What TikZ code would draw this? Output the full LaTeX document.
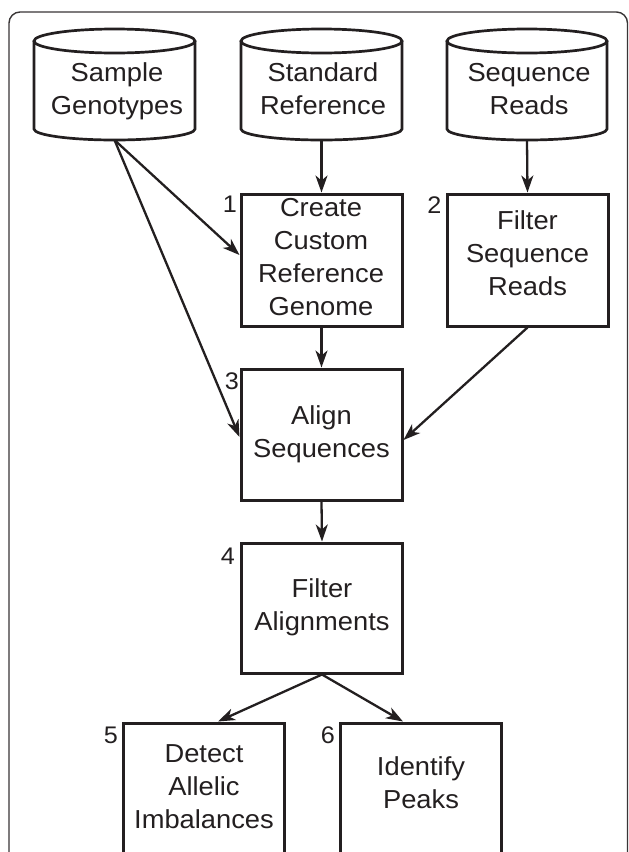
\documentclass[tikz,border=0pt]{standalone}
\usepackage{fontspec}
\setmainfont{Liberation Sans}[FakeStretch=1.05]
\usetikzlibrary{arrows.meta,calc}
\definecolor{ink}{RGB}{35,31,32}
\begin{document}
\begin{tikzpicture}[x=1pt,y=1pt,
  box/.style={draw=ink,line width=3pt,minimum width=161pt,inner sep=0pt},
  txt/.style={align=center,inner sep=0pt,text=ink,font=\fontsize{26}{33}\selectfont},
  num/.style={anchor=north east,inner sep=0pt,text=ink,font=\fontsize{24}{28}\selectfont},
  cyl/.style={draw=ink,line width=2.7pt},
  frame/.style={draw=ink!90,line width=1.4pt,rounded corners=11pt},
  arr/.style={draw=ink,line width=2.3pt,-{Stealth[length=17pt,width=12pt,inset=5pt]}}]
\useasboundingbox (0,0) rectangle (629,-852);
\clip (0,0) rectangle (629,-852);
\fill[white] (0,0) rectangle (629,-852);
% outer frame
\draw[frame] (9,-900) -- (9,-12) -- (627.5,-12) -- (627.5,-900);
% cylinders
\draw[cyl] (114.5,-41) ellipse [x radius=80.5, y radius=12];
\draw[cyl] (34,-41) -- (34,-129) arc[start angle=180,end angle=360,x radius=80.5,y radius=11] -- (195,-41);
\draw[cyl] (321.5,-41) ellipse [x radius=80.5, y radius=12];
\draw[cyl] (241,-41) -- (241,-129) arc[start angle=180,end angle=360,x radius=80.5,y radius=11] -- (402,-41);
\draw[cyl] (527,-41) ellipse [x radius=80, y radius=12];
\draw[cyl] (447,-41) -- (447,-129) arc[start angle=180,end angle=360,x radius=80,y radius=11] -- (607,-41);
\coordinate (c1b) at (114.5,-140);
\coordinate (c2b) at (321.5,-140);
\coordinate (c3b) at (527,-140);
\node[txt] (c1t) at (117,-91.5) {Sample\\Genotypes};
\node[txt] (c2t) at (323,-88.5) {Standard\\Reference};
\node[txt] (c3t) at (529,-89.5) {Sequence\\Reads};
% boxes
\node[box,minimum height=132pt] (b1) at (321.5,-260) {};
\node[box,minimum height=132pt] (b2) at (527.5,-260) {};
\node[box,minimum height=131pt] (b3) at (321.5,-434.5) {};
\node[box,minimum height=130pt] (b4) at (322,-608) {};
\node[box,minimum height=150pt] (b5) at (204,-798) {};
\node[box,minimum height=150pt] (b6) at (421,-798) {};
\node[txt] (b1t) at (321,-257.5) {Create\\Custom\\Reference\\Genome};
\node[txt] (b2t) at (527.5,-253.5) {Filter\\Sequence\\Reads};
\node[txt] (b3t) at (321.5,-434) {Align\\Sequences};
\node[txt] (b4t) at (322,-607) {Filter\\Alignments};
\node[txt] (b5t) at (204,-786.7) {Detect\\Allelic\\Imbalances};
\node[txt] (b6t) at (421,-783) {Identify\\Peaks};
% step numbers
\node[num] (n1) at (237,-196) {1};
\node[num] (n2) at (441.5,-197) {2};
\node[num] (n3) at (239,-373) {3};
\node[num] (n4) at (235,-548) {4};
\node[num] (n5) at (118,-727) {5};
\node[num] (n6) at (335,-727) {6};
% connectors
\draw[arr] (c1b) -- ($(b1.west)+(0,5)$);
\draw[arr] (c1b) -- ($(b3.west)+(0,-2.5)$);
\draw[arr] (c2b) -- (b1.north);
\draw[arr] (c3b) -- (b2.north);
\draw[arr] (b1.south) -- (b3.north);
\draw[arr] (b2.south) -- ($(b3.east)+(0,-5.5)$);
\draw[arr] (b3.south) -- (b4.north);
\draw[arr] (b4.south) -- ($(b5.north)+(14,0)$);
\draw[arr] (b4.south) -- ($(b6.north)+(-18,0)$);
\end{tikzpicture}
\end{document}
